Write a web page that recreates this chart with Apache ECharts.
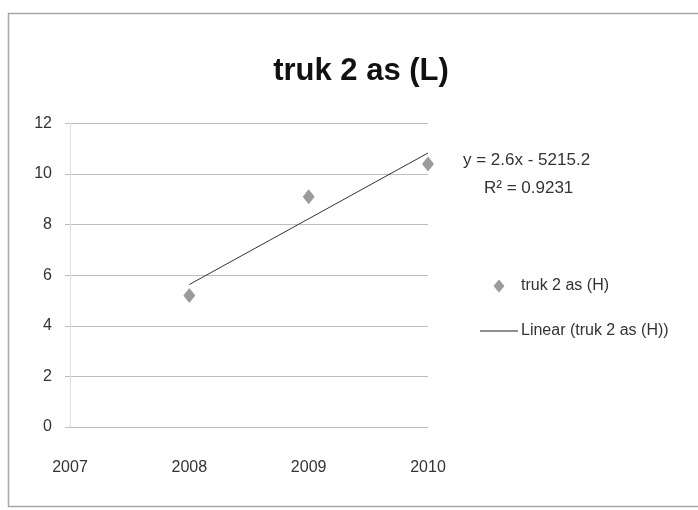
<!DOCTYPE html>
<html>
<head>
<meta charset="utf-8">
<script src="https://cdn.jsdelivr.net/npm/echarts@6/dist/echarts.min.js"></script>
<style>
  html, body { margin: 0; padding: 0; background: #fff; }
  #chart { width: 698px; height: 510px; }
</style>
</head>
<body>
<div id="chart"></div>
<script>
// Yearly observations for the two-axle truck series
const years = [2008, 2009, 2010];
const values = [5.2, 9.1, 10.4];
const xTicks = [2007, 2008, 2009, 2010];
const yTicks = [0, 2, 4, 6, 8, 10, 12];

const titleText = 'truk 2 as (L)';
const seriesName = 'truk 2 as (H)';
const trendName = 'Linear (truk 2 as (H))';

// Least-squares linear fit over the observations
function linearFit(xs, ys) {
  const n = xs.length;
  const mx = xs.reduce((a, b) => a + b, 0) / n;
  const my = ys.reduce((a, b) => a + b, 0) / n;
  let sxy = 0, sxx = 0, syy = 0;
  for (let i = 0; i < n; i++) {
    sxy += (xs[i] - mx) * (ys[i] - my);
    sxx += (xs[i] - mx) * (xs[i] - mx);
    syy += (ys[i] - my) * (ys[i] - my);
  }
  const slope = sxy / sxx;
  const intercept = my - slope * mx;
  let ssRes = 0;
  for (let i = 0; i < n; i++) {
    const r = ys[i] - (slope * xs[i] + intercept);
    ssRes += r * r;
  }
  return { slope, intercept, r2: 1 - ssRes / syy };
}

const fit = linearFit(years, values);
const trendData = [years[0], years[years.length - 1]].map(x => [x, fit.slope * x + fit.intercept]);
const sign = fit.intercept < 0 ? '-' : '+';
const eqText = 'y = ' + fit.slope.toFixed(1) + 'x ' + sign + ' ' + Math.abs(fit.intercept).toFixed(1);
const r2Text = 'R\u00B2 = ' + fit.r2.toFixed(4);

const FONT = '"Liberation Sans", Arial, sans-serif';
const MARKER = '#828282';

// Legend icons share one 38x14 box: a centred diamond, and a thin rule
const diamondIcon = 'path://M0,7L0.01,7M19,0.5L24.5,7L19,13.5L13.5,7ZM38,7L38.01,7';
const ruleIcon = 'path://M0,6.4L38,6.4L38,7.6L0,7.6Z';

const chart = echarts.init(document.getElementById('chart'), null, { renderer: 'canvas' });

chart.setOption({
  animation: false,
  backgroundColor: '#ffffff',
  title: {
    text: titleText,
    left: 356,
    top: 51,
    textAlign: 'center',
    textStyle: { fontFamily: FONT, fontSize: 31, fontWeight: 'bold', color: '#111' }
  },
  grid: { left: 70, top: 123.5, width: 358, height: 303.5, containLabel: false },
  xAxis: {
    type: 'value',
    min: xTicks[0],
    max: xTicks[xTicks.length - 1],
    interval: 1,
    axisLine: { show: true, lineStyle: { color: '#bdbdbd', width: 1 } },
    axisTick: { show: false },
    splitLine: { show: false },
    axisLabel: {
      margin: 33,
      fontFamily: FONT,
      fontSize: 16,
      color: '#333',
      formatter: v => String(v)
    }
  },
  yAxis: {
    type: 'value',
    min: yTicks[0],
    max: yTicks[yTicks.length - 1],
    interval: 2,
    axisLine: { show: true, lineStyle: { color: '#e0e0e0', width: 1 } },
    axisTick: { show: true, length: 5, lineStyle: { color: '#bdbdbd' } },
    splitLine: { show: true, lineStyle: { color: '#bdbdbd', width: 1 } },
    axisLabel: { margin: 18, fontFamily: FONT, fontSize: 16, color: '#333' }
  },
  legend: {
    orient: 'vertical',
    left: 475,
    top: 273,
    itemGap: 29,
    itemWidth: 38,
    itemHeight: 14,
    textStyle: { fontFamily: FONT, fontSize: 16, color: '#333', padding: [0, 0, 0, -2] },
    data: [
      { name: seriesName, icon: diamondIcon, itemStyle: { color: MARKER } },
      { name: trendName, icon: ruleIcon, itemStyle: { color: '#222' } }
    ]
  },
  series: [
    {
      name: seriesName,
      type: 'scatter',
      symbol: 'diamond',
      symbolSize: [12, 15],
      itemStyle: { color: MARKER },
      data: years.map((x, i) => [x, values[i]]),
      z: 3
    },
    {
      name: trendName,
      type: 'line',
      showSymbol: false,
      symbol: 'none',
      lineStyle: { color: '#333', width: 1 },
      data: trendData,
      z: 2
    }
  ],
  graphic: [
    {
      type: 'rect',
      shape: { x: 8.5, y: 13.5, width: 700, height: 493 },
      style: { fill: 'none', stroke: '#a8a8a8', lineWidth: 1.5 },
      silent: true
    },
    {
      type: 'text',
      left: 463,
      top: 152,
      style: { text: eqText, fontFamily: FONT, fontSize: 17, fill: '#333' }
    },
    {
      type: 'text',
      left: 484,
      top: 180,
      style: { text: r2Text, fontFamily: FONT, fontSize: 17, fill: '#333' }
    }
  ]
});
</script>
</body>
</html>
